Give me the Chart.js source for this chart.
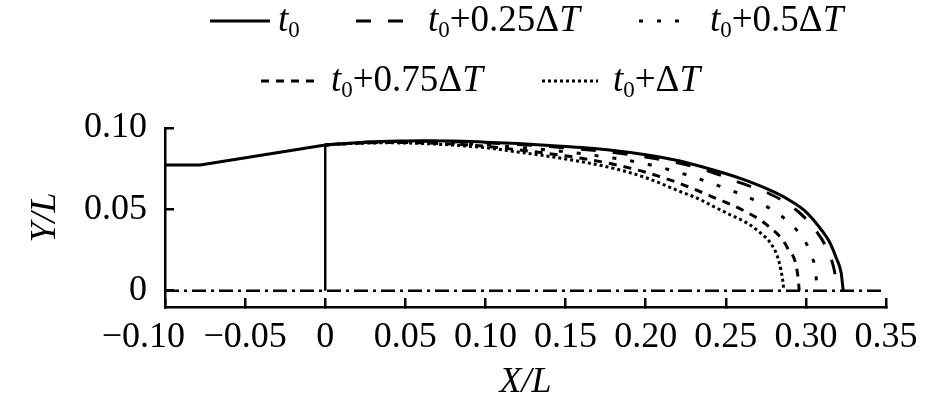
<!DOCTYPE html>
<html>
<head>
<meta charset="utf-8">
<script src="https://cdn.jsdelivr.net/npm/chart.js@4.4.1/dist/chart.umd.min.js"></script>
<style>
  html, body { margin: 0; padding: 0; background: #fff; }
  .wrap { position: relative; width: 945px; height: 406px; overflow: hidden; }
  canvas { position: absolute; left: 0; top: 0; }
  .legend { position: absolute; left: 0; top: 0; width: 945px; height: 110px; font-family: 'Liberation Serif', serif; font-size: 37px; color: #000; }
  .legend svg { position: absolute; }
  .legend .txt { position: absolute; white-space: nowrap; line-height: 1; }
  .legend sub { font-size: 0.62em; vertical-align: -0.28em; line-height: 0; }
</style>
</head>
<body>
<div class="wrap">
  <canvas id="shape" width="945" height="406"></canvas>
  <div class="legend" id="legend"></div>
</div>
<script>
// series names
const seriesNames = ['t0', 't0+0.25ΔT', 't0+0.5ΔT', 't0+0.75ΔT', 't0+ΔT'];

// upstream body (straight, same for all times)
const xFront = [-0.10, -0.078, 0];
const yFront = [0.0773, 0.0773, 0.0896];

// t0 (solid)
const xT0 = [0, 0.02, 0.04, 0.06, 0.08, 0.10, 0.12, 0.14, 0.16, 0.18, 0.20, 0.22, 0.24, 0.26, 0.28, 0.29, 0.30, 0.31, 0.315, 0.319, 0.322, 0.3233];
const yT0 = [0.0896, 0.0910, 0.0918, 0.0921, 0.0920, 0.0913, 0.0904, 0.0893, 0.0880, 0.0862, 0.0836, 0.0800, 0.0748, 0.0687, 0.0607, 0.0555, 0.0485, 0.0370, 0.0295, 0.0200, 0.0110, 0];

// t0 + 0.25dT
const xT25 = [0, 0.02, 0.04, 0.06, 0.08, 0.10, 0.12, 0.14, 0.16, 0.18, 0.20, 0.22, 0.24, 0.257, 0.276, 0.294, 0.306, 0.3135, 0.3177, 0.3197];
const yT25 = [0.0896, 0.0910, 0.0917, 0.0919, 0.0916, 0.0909, 0.0899, 0.0886, 0.0870, 0.0849, 0.0822, 0.0786, 0.0733, 0.0670, 0.0602, 0.0496, 0.0373, 0.0250, 0.0127, 0];

// t0 + 0.5dT
const xT50 = [0, 0.02, 0.04, 0.06, 0.08, 0.10, 0.12, 0.14, 0.16, 0.18, 0.20, 0.226, 0.248, 0.2594, 0.271, 0.2813, 0.2906, 0.2986, 0.3038, 0.3063, 0.3069];
const yT50 = [0.0896, 0.0908, 0.0914, 0.0914, 0.0908, 0.0897, 0.0882, 0.0864, 0.0842, 0.0815, 0.0780, 0.0711, 0.0636, 0.0593, 0.0541, 0.0482, 0.0410, 0.0316, 0.0209, 0.0096, 0];

// t0 + 0.75dT
const xT75 = [0, 0.02, 0.04, 0.06, 0.08, 0.10, 0.12, 0.14, 0.16, 0.18, 0.20, 0.22, 0.2438, 0.2604, 0.2764, 0.2886, 0.2952, 0.2958];
const yT75 = [0.0896, 0.0907, 0.0911, 0.0909, 0.0901, 0.0888, 0.0866, 0.0842, 0.0814, 0.0777, 0.0728, 0.0664, 0.0568, 0.0496, 0.0398, 0.0261, 0.0076, 0];

// t0 + dT
const xT100 = [0, 0.02, 0.04, 0.06, 0.08, 0.10, 0.12, 0.14, 0.16, 0.18, 0.20, 0.2219, 0.2323, 0.2427, 0.2531, 0.2636, 0.2719, 0.2781, 0.2823, 0.2844, 0.2861, 0.2862];
const yT100 = [0.0896, 0.0906, 0.0909, 0.0905, 0.0895, 0.0879, 0.0853, 0.0825, 0.0793, 0.0752, 0.0695, 0.0608, 0.0568, 0.0516, 0.0465, 0.0414, 0.0353, 0.0291, 0.0209, 0.0127, 0.0015, 0];

// vertical wall at x = 0 and the dash-dot axis line
const xWall = [0, 0];
const yWall = [0, 0.0896];
const xAxisLine = [-0.10, 0.35];
const yAxisLine = [0, 0];

// ticks (first label nudged left like the original, using trailing spaces)
const xTickValues = [-0.10, -0.05, 0, 0.05, 0.10, 0.15, 0.20, 0.25, 0.30, 0.35];
const xTickLabels = ['\u22120.10\u2003\u2009', '\u22120.05', '0', '0.05', '0.10', '0.15', '0.20', '0.25', '0.30', '0.35'];
const yTickValues = [0, 0.05, 0.10];
const yTickLabels = ['0', '0.05', '0.10'];

const FONT = "'Liberation Serif', 'Times New Roman', serif";
const pts = (xs, ys) => xs.map((x, i) => ({ x: x, y: ys[i] }));

const line = (label, xs, ys, dash, inLegend, smooth) => ({
  label: label,
  data: pts(xs, ys),
  showLine: true,
  borderColor: '#000',
  backgroundColor: '#000',
  borderWidth: 3,
  borderDash: dash,
  pointRadius: 0,
  tension: 0,
  cubicInterpolationMode: smooth ? 'monotone' : 'default',
  inLegend: inLegend
});

const datasets = [
  line(seriesNames[0], xT0, yT0, [], true, true),
  line(seriesNames[1], xT25, yT25, [15, 17], true, true),
  line(seriesNames[2], xT50, yT50, [4, 14], true, true),
  line(seriesNames[3], xT75, yT75, [8, 7], true, true),
  line(seriesNames[4], xT100, yT100, [3, 3], true, true),
  line('front', xFront, yFront, [], false, false),
  line('wall', xWall, yWall, [], false, false),
  line('axis', xAxisLine, yAxisLine, [14, 5, 3, 5], false, false)
];
datasets[6].borderWidth = 2.5;
datasets[7].borderWidth = 2.5;

const chart = new Chart(document.getElementById('shape').getContext('2d'), {
  type: 'scatter',
  data: { datasets: datasets },
  options: {
    responsive: false,
    animation: false,
    layout: { padding: { top: 128, right: 59, bottom: 0, left: 20 } },
    plugins: { legend: { display: false }, tooltip: { enabled: false } },
    scales: {
      x: {
        type: 'linear',
        min: -0.10,
        max: 0.35,
        afterBuildTicks: s => { s.ticks = xTickValues.map(v => ({ value: v })); },
        afterFit: s => { s.height = 99; },
        ticks: {
          callback: (v, i) => xTickLabels[i],
          autoSkip: false, maxRotation: 0, minRotation: 0,
          padding: 18, color: '#000',
          font: { family: FONT, size: 36 }
        },
        grid: { display: true, drawOnChartArea: false, drawTicks: true, tickLength: -9, color: '#000', lineWidth: 2.5 },
        border: { display: true, color: '#000', width: 2.5 },
        title: {
          display: true, text: 'X/L', color: '#000',
          font: { family: FONT, size: 36, style: 'italic' },
          padding: { top: 0, bottom: 2 }
        }
      },
      y: {
        type: 'linear',
        min: -0.01,
        max: 0.10,
        afterBuildTicks: s => { s.ticks = yTickValues.map(v => ({ value: v })); },
        afterFit: s => { s.width = 145; },
        ticks: {
          callback: (v, i) => yTickLabels[i],
          padding: 27, color: '#000',
          font: { family: FONT, size: 36 }
        },
        grid: { display: true, drawOnChartArea: false, drawTicks: true, tickLength: -9, color: '#000', lineWidth: 2.5 },
        border: { display: true, color: '#000', width: 2.5 },
        title: {
          display: true, text: 'Y/L', color: '#000',
          font: { family: FONT, size: 36, style: 'italic' },
          padding: { top: 4, bottom: 4 }
        }
      }
    }
  }
});

// html legend built from the datasets
const legendSlots = [
  { sx: 210, sw: 60, tx: 278, cy: 21 },
  { sx: 356, sw: 53, tx: 428, cy: 21 },
  { sx: 639, sw: 40, tx: 710, cy: 21 },
  { sx: 261, sw: 56, tx: 331, cy: 81 },
  { sx: 542, sw: 56, tx: 613, cy: 81 }
];
const fmt = name => name.replace('t0', '<i>t</i><sub>0</sub>').replace(/T$/, '<i>T</i>');
const legendEl = document.getElementById('legend');
chart.data.datasets.filter(d => d.inLegend).forEach((d, i) => {
  const s = legendSlots[i];
  const svg = document.createElementNS('http://www.w3.org/2000/svg', 'svg');
  svg.setAttribute('width', s.sw);
  svg.setAttribute('height', 6);
  svg.style.left = s.sx + 'px';
  svg.style.top = (s.cy - 3) + 'px';
  const ln = document.createElementNS('http://www.w3.org/2000/svg', 'line');
  ln.setAttribute('x1', 0); ln.setAttribute('x2', s.sw);
  ln.setAttribute('y1', 3); ln.setAttribute('y2', 3);
  ln.setAttribute('stroke', d.borderColor);
  ln.setAttribute('stroke-width', d.borderWidth);
  if (d.borderDash.length) ln.setAttribute('stroke-dasharray', d.borderDash.join(' '));
  svg.appendChild(ln);
  legendEl.appendChild(svg);
  const t = document.createElement('div');
  t.className = 'txt';
  t.innerHTML = fmt(d.label);
  t.style.left = s.tx + 'px';
  t.style.top = (s.cy - 21) + 'px';
  legendEl.appendChild(t);
});
</script>
</body>
</html>
